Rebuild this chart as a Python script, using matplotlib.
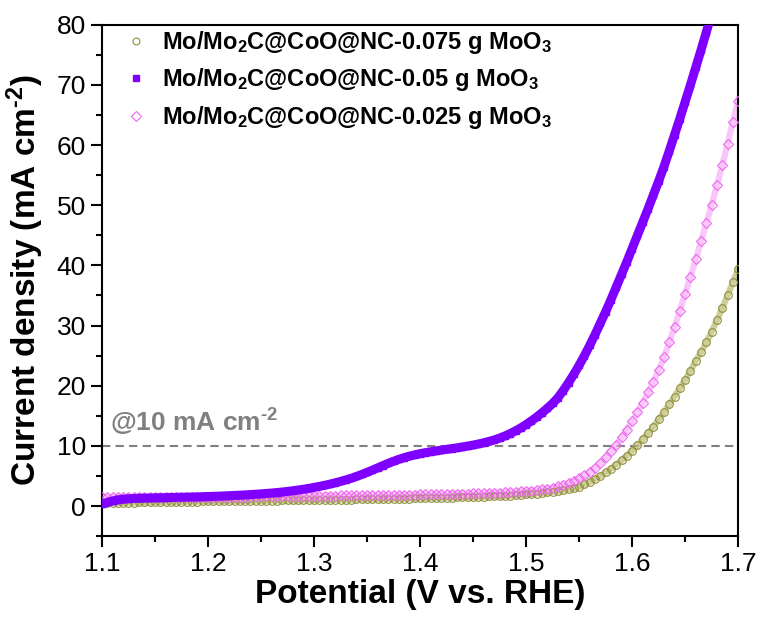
import numpy as np
import matplotlib
matplotlib.use("Agg")
import matplotlib.pyplot as plt

# ── DATA ──────────────────────────────────────────
# potential grid of the LSV scan (V vs. RHE), 5 mV steps
potential = np.round(np.linspace(1.10, 1.70, 121), 3)

labels = ["Mo/Mo$_2$C@CoO@NC-0.075 g MoO$_3$",
          "Mo/Mo$_2$C@CoO@NC-0.05 g MoO$_3$",
          "Mo/Mo$_2$C@CoO@NC-0.025 g MoO$_3$"]

# current density (mA cm-2)
j_0075 = [0.45, 0.50, 0.52, 0.54, 0.55, 0.57, 0.58, 0.60, 0.61, 0.62,
          0.64, 0.65, 0.67, 0.68, 0.70, 0.71, 0.73, 0.74, 0.76, 0.77,
          0.79, 0.80, 0.81, 0.82, 0.83, 0.84, 0.85, 0.86, 0.87, 0.88,
          0.89, 0.90, 0.91, 0.92, 0.93, 0.94, 0.95, 0.96, 0.97, 0.98,
          1.00, 1.01, 1.03, 1.04, 1.05, 1.07, 1.08, 1.09, 1.11, 1.12,
          1.14, 1.15, 1.17, 1.18, 1.20, 1.21, 1.23, 1.25, 1.26, 1.28,
          1.30, 1.32, 1.34, 1.36, 1.38, 1.40, 1.42, 1.44, 1.46, 1.49,
          1.51, 1.54, 1.57, 1.60, 1.63, 1.67, 1.71, 1.75, 1.80, 1.86,
          1.93, 2.00, 2.08, 2.17, 2.27, 2.38, 2.50, 2.64, 2.80, 2.98,
          3.20, 3.60, 4.00, 4.50, 5.00, 5.60, 6.20, 6.90, 7.60, 8.40,
          9.20, 10.1, 11.1, 12.1, 13.2, 14.4, 15.6, 16.9, 18.2, 19.6,
          21.0, 22.5, 24.1, 25.6, 27.2, 29.0, 30.9, 32.9, 35.0, 37.2,
          39.4]

j_005 = [0.30, 0.60, 0.85, 1.05, 1.15, 1.22, 1.27, 1.30, 1.33, 1.35,
         1.37, 1.39, 1.41, 1.43, 1.45, 1.47, 1.49, 1.51, 1.53, 1.56,
         1.59, 1.62, 1.65, 1.69, 1.73, 1.77, 1.81, 1.86, 1.91, 1.97,
         2.03, 2.10, 2.17, 2.25, 2.34, 2.44, 2.55, 2.67, 2.80, 2.94,
         3.10, 3.27, 3.45, 3.65, 3.87, 4.10, 4.35, 4.62, 4.92, 5.25,
         5.60, 5.97, 6.35, 6.73, 7.10, 7.45, 7.77, 8.05, 8.30, 8.52,
         8.71, 8.88, 9.03, 9.17, 9.30, 9.43, 9.56, 9.69, 9.83, 9.98,
         10.14, 10.32, 10.52, 10.75, 11.0, 11.3, 11.65, 12.05, 12.5, 13.0,
         13.55, 14.15, 14.8, 15.5, 16.25, 17.05, 18.0, 19.2, 20.5, 21.9,
         23.4, 25.0, 26.7, 28.5, 30.4, 32.3, 34.3, 36.4, 38.5, 40.6,
         42.8, 45.0, 47.2, 49.4, 51.7, 54.0, 56.4, 59.0, 61.7, 64.4,
         67.2, 70.0, 72.9, 75.8, 78.8, 81.8, 84.8]

j_0025 = [1.55, 1.54, 1.53, 1.52, 1.52, 1.51, 1.50, 1.50, 1.50, 1.50,
          1.50, 1.50, 1.50, 1.50, 1.50, 1.51, 1.51, 1.52, 1.52, 1.53,
          1.53, 1.54, 1.55, 1.55, 1.56, 1.57, 1.58, 1.58, 1.59, 1.60,
          1.61, 1.62, 1.63, 1.64, 1.65, 1.66, 1.67, 1.68, 1.69, 1.70,
          1.71, 1.72, 1.73, 1.74, 1.75, 1.76, 1.77, 1.78, 1.79, 1.80,
          1.81, 1.82, 1.83, 1.84, 1.85, 1.86, 1.88, 1.89, 1.90, 1.92,
          1.93, 1.95, 1.96, 1.98, 1.99, 2.01, 2.03, 2.05, 2.07, 2.09,
          2.11, 2.13, 2.16, 2.19, 2.22, 2.25, 2.29, 2.33, 2.38, 2.44,
          2.50, 2.58, 2.67, 2.78, 2.92, 3.08, 3.30, 3.55, 3.85, 4.20,
          4.60, 5.10, 5.70, 6.40, 7.20, 8.10, 9.10, 10.2, 11.4, 12.7,
          14.1, 15.6, 17.2, 18.9, 20.7, 22.6, 24.7, 27.2, 29.8, 32.5,
          35.3, 38.1, 41.0, 44.0, 47.0, 50.1, 53.3, 56.6, 60.2, 63.8,
          67.4]

ref_current = 10

# ── STYLE ─────────────────────────────────────────
plt.rcParams['font.family'] = ['Liberation Sans', 'DejaVu Sans']
plt.rcParams['mathtext.fontset'] = 'custom'
plt.rcParams['mathtext.rm'] = 'Liberation Sans:bold'
plt.rcParams['mathtext.bf'] = 'Liberation Sans:bold'
plt.rcParams['mathtext.it'] = 'Liberation Sans:bold'

fig = plt.figure(figsize=(7.61, 6.17), dpi=100)
ax = fig.add_axes([0.134, 0.131, 0.836, 0.829])

# ── CURVES ────────────────────────────────────────
olive, purple, pink = '#8f8f3a', '#7f00ff', '#ee66ee'

ax.plot(potential, j_0075, color='#b8b870', lw=4.5, alpha=0.7, zorder=2)
ax.plot(potential, j_0075, ls='none', marker='o', ms=5.5, mfc='none',
        mec=olive, mew=0.8, label=labels[0], zorder=3)

ax.plot(potential[:len(j_005)], j_005, color=purple, lw=6.5, zorder=4,
        solid_capstyle='butt')
ax.plot(potential[:len(j_005)], j_005, ls='none', marker='s', ms=5,
        color=purple, label=labels[1], zorder=5)

ax.plot(potential, j_0025, color='#f4a0f4', lw=4.5, alpha=0.6, zorder=2)
ax.plot(potential, j_0025, ls='none', marker='D', ms=5.5, mfc='none',
        mec=pink, mew=0.8, label=labels[2], zorder=3)

# 10 mA cm-2 reference
ax.axhline(ref_current, color='#808080', ls=(0, (4, 2.5)), lw=1.5, zorder=1)
ax.text(1.1075, 12.3, r'@10 mA cm$^{\text{-2}}$', color='#808080',
        fontsize=19, fontweight='bold')

# ── AXES ──────────────────────────────────────────
ax.set_xlim(1.1, 1.7)
ax.set_ylim(-5, 80)
ax.set_xticks([1.1, 1.2, 1.3, 1.4, 1.5, 1.6, 1.7])
ax.set_xticks(np.arange(1.15, 1.7, 0.1), minor=True)
ax.set_yticks(np.arange(0, 81, 10))
ax.set_yticks(np.arange(-5, 80, 10), minor=True)
ax.tick_params(which='both', direction='out', width=1.5, labelsize=19,
               top=False, right=False)
ax.tick_params(which='major', length=8)
ax.tick_params(which='minor', length=4)
for s in ax.spines.values():
    s.set_linewidth(1.5)

ax.set_xlabel('Potential (V vs. RHE)', fontsize=24, fontweight='bold',
              labelpad=2)
ax.set_ylabel(r'Current density (mA cm$^{\text{-2}}$)', fontsize=24,
              fontweight='bold', labelpad=8)

ax.legend(loc='upper left', bbox_to_anchor=(0.035, 0.992), frameon=False,
          prop={'weight': 'bold', 'size': 17},
          handlelength=1.0, handletextpad=0.6, labelspacing=0.45,
          borderpad=0, borderaxespad=0, markerscale=0.9)

fig.savefig('out.png', dpi=100)
